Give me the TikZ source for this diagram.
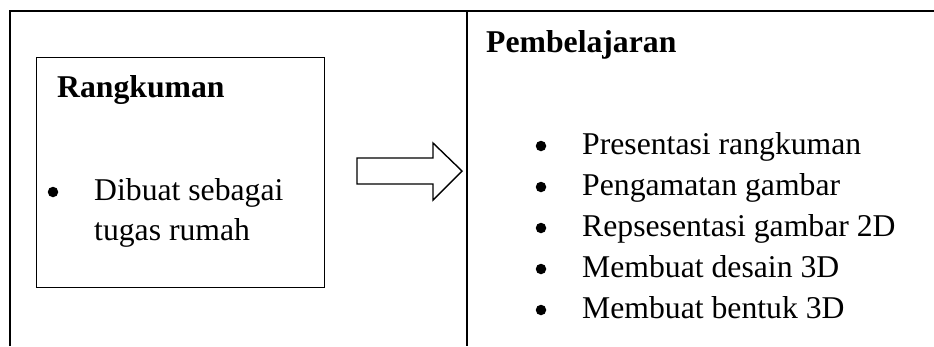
\documentclass[tikz,border=0pt]{standalone}
\usepackage{fontspec}
\setmainfont{Liberation Serif}
\begin{document}
\begin{tikzpicture}[x=1pt,y=-1pt,
  txt/.style={inner sep=0pt,anchor=base west,font=\fontsize{31.7}{41}\selectfont},
  hd/.style={txt,font=\fontsize{31.7}{41}\selectfont\bfseries},
  dotmark/.style={circle,fill=black,inner sep=0pt,minimum size=10.5pt},
  frame/.style={line width=1.8pt,black},
  box/.style={line width=1pt,black}]
\useasboundingbox (0,0) rectangle (934,346);
% outer frame
\coordinate (tl) at (10,11);
\coordinate (tr) at (934,11);
\coordinate (bl) at (10,346);
\coordinate (dt) at (467,11);
\coordinate (db) at (467,346);
\draw[frame] (bl) -- (tl) -- (tr);
\draw[line width=1.5pt] (dt) -- (db);
% inner box
\draw[box] (36,57) rectangle (324,287);
\node[hd] (rk) at (57,97) {Rangkuman};
\node[dotmark] (b0) at (53,192) {};
\node[txt] (l1) at (94,200) {Dibuat sebagai};
\node[txt] (l2) at (94,240) {tugas rumah};
% arrow
\draw[line width=1.4pt,line join=miter] (357,158) -- (433,158) -- (433,143) -- (462,171) -- (433,200) -- (433,184) -- (357,184) -- cycle;
% right panel
\node[hd] (pb) at (486,52) {Pembelajaran};
\foreach \t [count=\i] in {Presentasi rangkuman,Pengamatan gambar,Repsesentasi gambar 2D,Membuat desain 3D,Membuat bentuk 3D}{
  \node[dotmark] (rb\i) at (541,{105+41*\i}) {};
  \node[txt] (r\i) at (582,{113+41*\i}) {\t};
}
\end{tikzpicture}
\end{document}
